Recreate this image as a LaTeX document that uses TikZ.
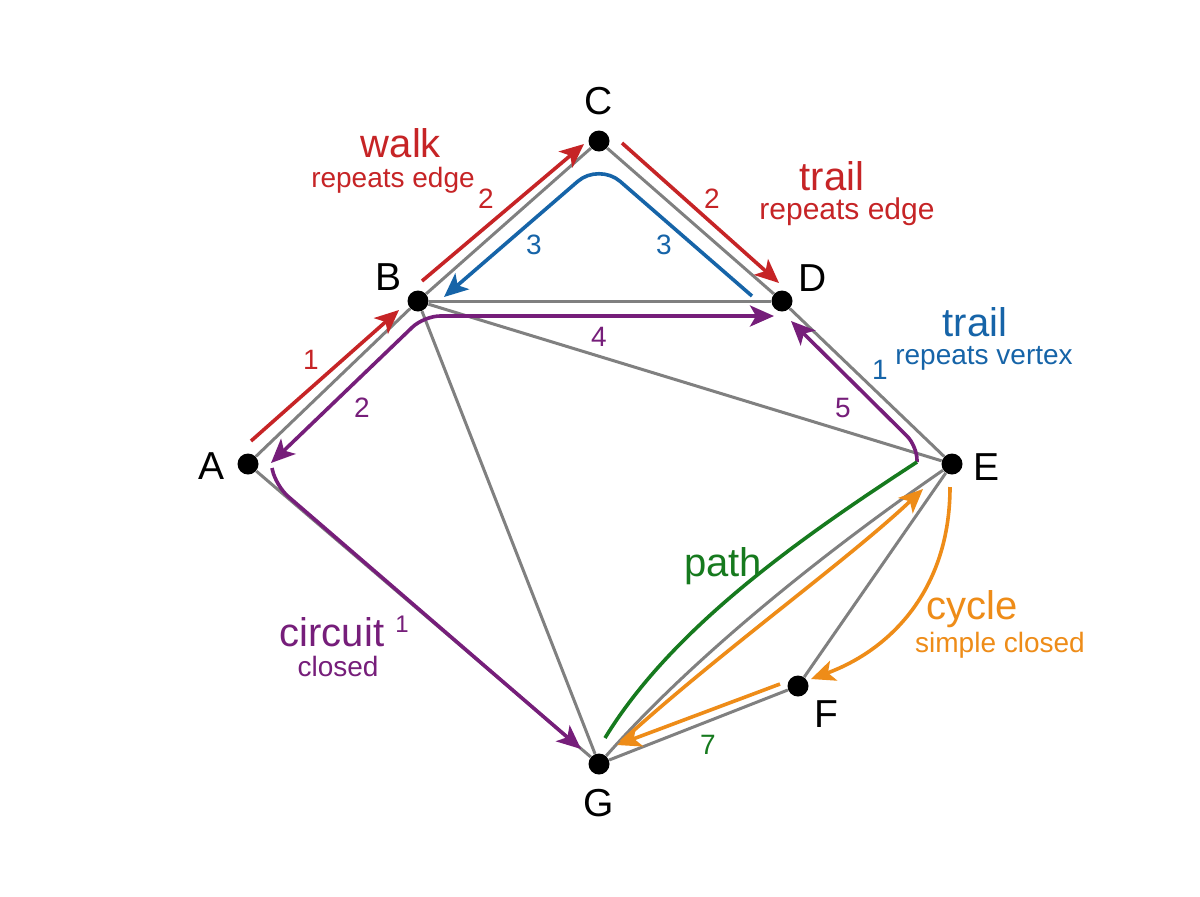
\documentclass[tikz,border=0pt]{standalone}
\usepackage{fontspec}
\setmainfont{Liberation Sans}
\usetikzlibrary{arrows.meta,backgrounds}
\definecolor{eg}{RGB}{128,128,128}
\definecolor{wred}{RGB}{198,36,38}
\definecolor{tblue}{RGB}{22,100,168}
\definecolor{cpurp}{RGB}{118,30,122}
\definecolor{pgreen}{RGB}{22,122,30}
\definecolor{corange}{RGB}{238,140,24}
\begin{document}
\begin{tikzpicture}[x=0.5pt,y=-0.5pt,
  >={Stealth[length=12pt,width=10.5pt,inset=3pt]},
  dot/.style={circle,fill=black,inner sep=0pt,minimum size=10.5pt},
  vlab/.style={font=\fontsize{19.5}{22}\selectfont},
  edge/.style={draw=eg,line width=1.5pt},
  tip/.style={->},
  cpath/.style={line width=1.8pt},
  big/.style={font=\fontsize{20}{24}\selectfont},
  small/.style={font=\fontsize{14}{17}\selectfont},
  num/.style={font=\fontsize{14}{17}\selectfont}]
\useasboundingbox (0,0) rectangle (1200,896);
% vertices
\node[dot] (A) at (248,464) {};
\node[dot] (B) at (418,301) {};
\node[dot] (C) at (599,141) {};
\node[dot] (D) at (782,301) {};
\node[dot] (E) at (952,464) {};
\node[dot] (F) at (798,686) {};
\node[dot] (G) at (599,764) {};
\node[vlab] (lA) at (212,466) {A};
\node[vlab] (lB) at (389,277) {B};
\node[vlab] (lC) at (599,101) {C};
\node[vlab] (lD) at (813,278) {D};
\node[vlab] (lE) at (986,467) {E};
\node[vlab] (lF) at (826,714) {F};
\node[vlab] (lG) at (599,803) {G};
% free ends of the highlighted walks
\coordinate (r1s) at (251,441); \coordinate (r1e) at (399,310);
\coordinate (r2s) at (422,281); \coordinate (r2e) at (584,144);
\coordinate (r3s) at (622,143); \coordinate (r3e) at (779,283);
\coordinate (b1s) at (752,296); \coordinate (b1m) at (599,163); \coordinate (b1e) at (444,297);
\coordinate (p1a) at (271,463); \coordinate (p1b) at (424,316); \coordinate (p1c) at (774,316);
\coordinate (p2a) at (272,468); \coordinate (p2b) at (276,486); \coordinate (p2c) at (581,749);
\coordinate (p3a) at (917,462); \coordinate (p3b) at (917,446); \coordinate (p3c) at (791,321);
\coordinate (g1a) at (605,738); \coordinate (g1b) at (917,462);
\coordinate (o1a) at (621,742); \coordinate (o1b) at (923,489);
\coordinate (o2a) at (950,487); \coordinate (o2b) at (811,679);
\coordinate (o3a) at (780,684); \coordinate (o3b) at (617,745);
\begin{scope}[on background layer]
  \fill[white] (0,0) rectangle (1200,896);
  \draw[edge] (A) -- (B);
  \draw[edge] (B) -- (C);
  \draw[edge] (C) -- (D);
  \draw[edge] (B) -- (D);
  \draw[edge] (D) -- (E);
  \draw[edge] (B) -- (E);
  \draw[edge] (B) -- (G);
  \draw[edge] (A) -- (G);
  \draw[edge] (G) .. controls (695,655) and (830,548) .. (E);
  \draw[edge] (E) -- (F);
  \draw[edge] (F) -- (G);
  % walk (red)
  \draw[cpath,wred,tip] (r1s) -- (r1e);
  \draw[cpath,wred,tip] (r2s) -- (r2e);
  \draw[cpath,wred,tip] (r3s) -- (r3e);
  % trail repeats vertex (blue)
  \draw[cpath,tblue,tip,rounded corners=14pt] (b1s) -- (b1m) -- (b1e);
  % circuit (purple)
  \draw[cpath,cpurp,<->,rounded corners=8pt] (p1a) -- (p1b) -- (p1c);
  \draw[cpath,cpurp,tip,rounded corners=8pt] (p2a) -- (p2b) -- (p2c);
  \draw[cpath,cpurp,tip,rounded corners=7pt] (p3a) -- (p3b) -- (p3c);
  % path (green)
  \draw[cpath,pgreen] (g1a) .. controls (672,628) and (800,538) .. (g1b);
  % cycle (orange)
  \draw[cpath,corange,tip] (o1a) .. controls (716,655) and (848,560) .. (o1b);
  \draw[cpath,corange,tip] (o2a) .. controls (950,590) and (890,650) .. (o2b);
  \draw[cpath,corange,tip] (o3a) -- (o3b);
\end{scope}
% labels
\node[big,text=wred] (walk) at (401,143) {walk};
\node[small,text=wred] (walks) at (393,180) {repeats edge};
\node[num,text=wred] (n1) at (311,360) {1};
\node[num,text=wred] (n2) at (486,199) {2};
\node[num,text=wred] (n3) at (712,199) {2};
\node[big,text=wred] (trailr) at (832,176) {trail};
\node[font=\fontsize{15}{18}\selectfont,text=wred] (trailrs) at (847,212) {repeats edge};
\node[num,text=tblue] (n4) at (534,245) {3};
\node[num,text=tblue] (n5) at (664,245) {3};
\node[num,text=tblue] (n6) at (880,370) {1};
\node[big,text=tblue] (trailb) at (975,322) {trail};
\node[small,text=tblue] (trailbs) at (984,358) {repeats vertex};
\node[num,text=cpurp] (n7) at (599,337) {4};
\node[num,text=cpurp] (n8) at (362,408) {2};
\node[num,text=cpurp] (n9) at (843,408) {5};
\node[big,text=cpurp] (circ) at (332,632) {circuit};
\node[font=\fontsize{12}{14}\selectfont,text=cpurp] (n10) at (402,624) {1};
\node[small,text=cpurp] (circs) at (338,666) {closed};
\node[big,text=pgreen] (pathl) at (723,566) {path};
\node[num,text=pgreen] (n11) at (708,745) {7};
\node[big,text=corange] (cyc) at (972,609) {cycle};
\node[small,text=corange] (cycs) at (1000,645) {simple closed};
\end{tikzpicture}
\end{document}
